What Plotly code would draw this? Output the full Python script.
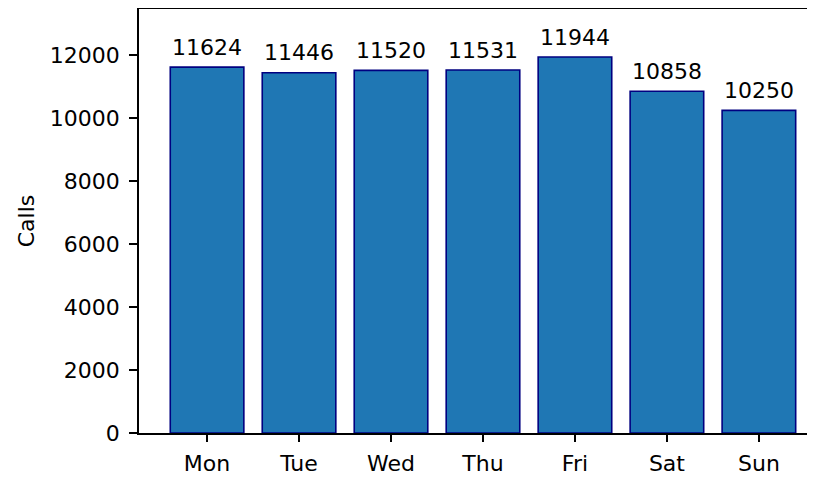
import plotly.graph_objects as go

days = ["Mon", "Tue", "Wed", "Thu", "Fri", "Sat", "Sun"]
calls = [11624, 11446, 11520, 11531, 11944, 10858, 10250]
yticks = [0, 2000, 4000, 6000, 8000, 10000, 12000]

FONT = "DejaVu Sans"

fig = go.Figure()
fig.add_trace(go.Bar(
    x=days, y=calls, width=0.8,
    marker=dict(color="#1f77b4", line=dict(color="#000080", width=1.6)),
    hoverinfo="skip",
))

for d, v in zip(days, calls):
    fig.add_annotation(x=d, y=v, text=str(v), showarrow=False,
                       yanchor="middle", yshift=20,
                       font=dict(family=FONT, size=22, color="black"))

fig.update_layout(
    width=807, height=469,
    margin=dict(l=131, r=0, t=1, b=44),
    paper_bgcolor="white", plot_bgcolor="white",
    font=dict(family=FONT, size=22, color="black"),
    showlegend=False,
    bargap=0.2,
)
fig.update_xaxes(
    range=[-0.74, 6.61], showline=True, linecolor="black", linewidth=1.5,
    mirror=True, ticks="outside", ticklen=7, tickwidth=1.5, tickcolor="black",
    showgrid=False, ticklabelstandoff=3,
)
fig.update_yaxes(
    range=[0, 13470], tickvals=yticks, ticktext=[str(t) for t in yticks],
    showline=True, linecolor="black", linewidth=1.5,
    ticks="outside", ticklen=8, tickwidth=1.5, tickcolor="black",
    showgrid=False, zeroline=False, ticklabelstandoff=5,
    title=dict(text="Calls", standoff=9, font=dict(family=FONT, size=22)),
)

fig.write_html("out.html")
